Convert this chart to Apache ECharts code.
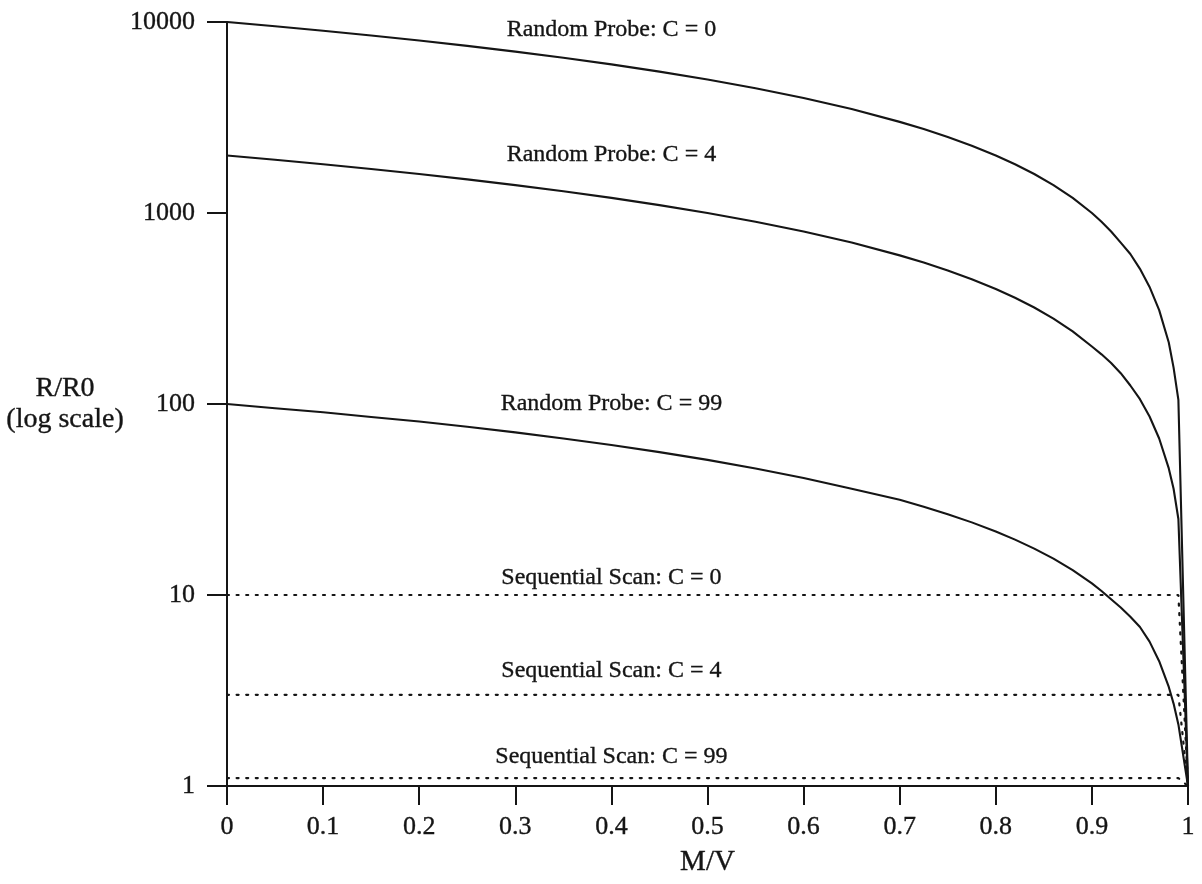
<!DOCTYPE html>
<html>
<head>
<meta charset="utf-8">
<script src="https://cdn.jsdelivr.net/npm/echarts@6/dist/echarts.min.js"></script>
<style>
  html, body { margin: 0; padding: 0; background: #ffffff; }
  #chart { width: 1202px; height: 884px; }
</style>
</head>
<body>
<div id="chart"></div>
<script>
// ---- data ----
const mv = [0, 0.05, 0.1, 0.15, 0.2, 0.25, 0.3, 0.35, 0.4, 0.45, 0.5, 0.55, 0.6, 0.65, 0.7, 0.725, 0.75, 0.775, 0.8, 0.82, 0.84, 0.86, 0.88, 0.9, 0.91, 0.92, 0.93, 0.94, 0.95, 0.96, 0.97, 0.98, 0.985, 0.99, 1];
const randomC0  = [10000, 9500, 9000, 8500, 8000, 7500, 7000, 6500, 6000, 5500, 5000, 4500, 4000, 3500, 3000, 2750, 2500, 2250, 2000, 1800, 1600, 1400, 1200, 1000, 900, 800, 700, 610, 510, 410, 310, 210, 155, 105, 1];
const randomC4  = [2000, 1900, 1800, 1700, 1600, 1500, 1400, 1300, 1200, 1100, 1000, 900, 800, 700, 600, 550, 500, 450, 400, 360, 320, 280, 240, 200, 182, 164, 145, 125, 106, 86, 66, 46, 36, 25, 1];
const randomC99 = [100, 95, 90.5, 85.5, 81, 76, 71, 66, 61, 56, 51, 46, 41, 36, 31.5, 29, 26.5, 24, 21.5, 19.5, 17.5, 15.5, 13.5, 11.5, 10.5, 9.5, 8.6, 7.7, 6.8, 5.7, 4.5, 3.3, 2.7, 2.1, 1];
const seqX = [0, 0.99, 1];
const seqC0  = [10, 10, 1];
const seqC4  = [3, 3, 1];
const seqC99 = [1.1, 1.1, 1];
const seriesNames = ['Random Probe: C = 0', 'Random Probe: C = 4', 'Random Probe: C = 99',
                     'Sequential Scan: C = 0', 'Sequential Scan: C = 4', 'Sequential Scan: C = 99'];
const xTickLabels = ['0', '0.1', '0.2', '0.3', '0.4', '0.5', '0.6', '0.7', '0.8', '0.9', '1'];
const yTickLabels = ['1', '10', '100', '1000', '10000'];
const xAxisTitle = 'M/V';
const yAxisTitle = 'R/R0\n(log scale)';
const labelAtX = 0.4;

// ---- chart ----
const FONT = 'Liberation Serif';
const INK = '#151515';
const zip = (xs, ys) => xs.map((x, i) => [x, ys[i]]);
const valueAt = (xs, ys, x) => ys[xs.indexOf(x)];
const heavy = { textBorderColor: INK, textBorderWidth: 0.35 };

function makeSeries(name, xs, ys, dotted, labelDy) {
  return {
    name: name,
    type: 'line',
    data: zip(xs, ys),
    showSymbol: false,
    symbol: 'none',
    smooth: false,
    lineStyle: dotted
      ? { color: INK, width: 2.2, type: [2, 7.6], cap: 'round' }
      : { color: INK, width: 2.1, join: 'round' },
    markPoint: {
      symbol: 'circle',
      symbolSize: 0,
      silent: true,
      data: [{ coord: [labelAtX, dotted ? ys[0] : valueAt(xs, ys, labelAtX)] }],
      label: Object.assign({
        show: true,
        position: 'inside',
        offset: [0, labelDy],
        formatter: name,
        color: INK,
        fontFamily: FONT,
        fontSize: 24
      }, heavy)
    },
    z: 3
  };
}

const chart = echarts.init(document.getElementById('chart'), null, { renderer: 'canvas' });
chart.setOption({
  animation: false,
  backgroundColor: '#ffffff',
  grid: { left: 227, right: 14, top: 22, bottom: 98, containLabel: false },
  xAxis: {
    type: 'value',
    min: 0,
    max: 1,
    interval: 0.1,
    name: xAxisTitle,
    nameLocation: 'middle',
    nameGap: 62,
    nameTextStyle: Object.assign({ color: INK, fontFamily: FONT, fontSize: 29 }, heavy),
    axisLine: { show: true, onZero: false, lineStyle: { color: INK, width: 2 } },
    axisTick: { show: true, length: 19, lineStyle: { color: INK, width: 2 } },
    axisLabel: Object.assign({
      margin: 28,
      color: INK,
      fontFamily: FONT,
      fontSize: 26,
      formatter: v => xTickLabels[Math.round(v * 10)]
    }, heavy),
    splitLine: { show: false }
  },
  yAxis: {
    type: 'log',
    logBase: 10,
    min: 1,
    max: 10000,
    splitNumber: 4,
    name: yAxisTitle,
    nameLocation: 'middle',
    nameRotate: 0,
    nameGap: 157,
    nameTextStyle: Object.assign({ color: INK, fontFamily: FONT, fontSize: 28, lineHeight: 31, align: 'center', verticalAlign: 'middle' }, heavy),
    axisLine: { show: true, onZero: false, lineStyle: { color: INK, width: 2 } },
    axisTick: { show: true, length: 20, lineStyle: { color: INK, width: 2 } },
    minorTick: { show: false },
    axisLabel: Object.assign({
      margin: 32,
      color: INK,
      fontFamily: FONT,
      fontSize: 26,
      formatter: v => yTickLabels[Math.round(Math.log10(v))]
    }, heavy),
    splitLine: { show: false }
  },
  series: [
    makeSeries(seriesNames[0], mv, randomC0, false, -35),
    makeSeries(seriesNames[1], mv, randomC4, false, -43),
    makeSeries(seriesNames[2], mv, randomC99, false, -41),
    makeSeries(seriesNames[3], seqX, seqC0, true, -17),
    makeSeries(seriesNames[4], seqX, seqC4, true, -24),
    makeSeries(seriesNames[5], seqX, seqC99, true, -21)
  ]
});
</script>
</body>
</html>
